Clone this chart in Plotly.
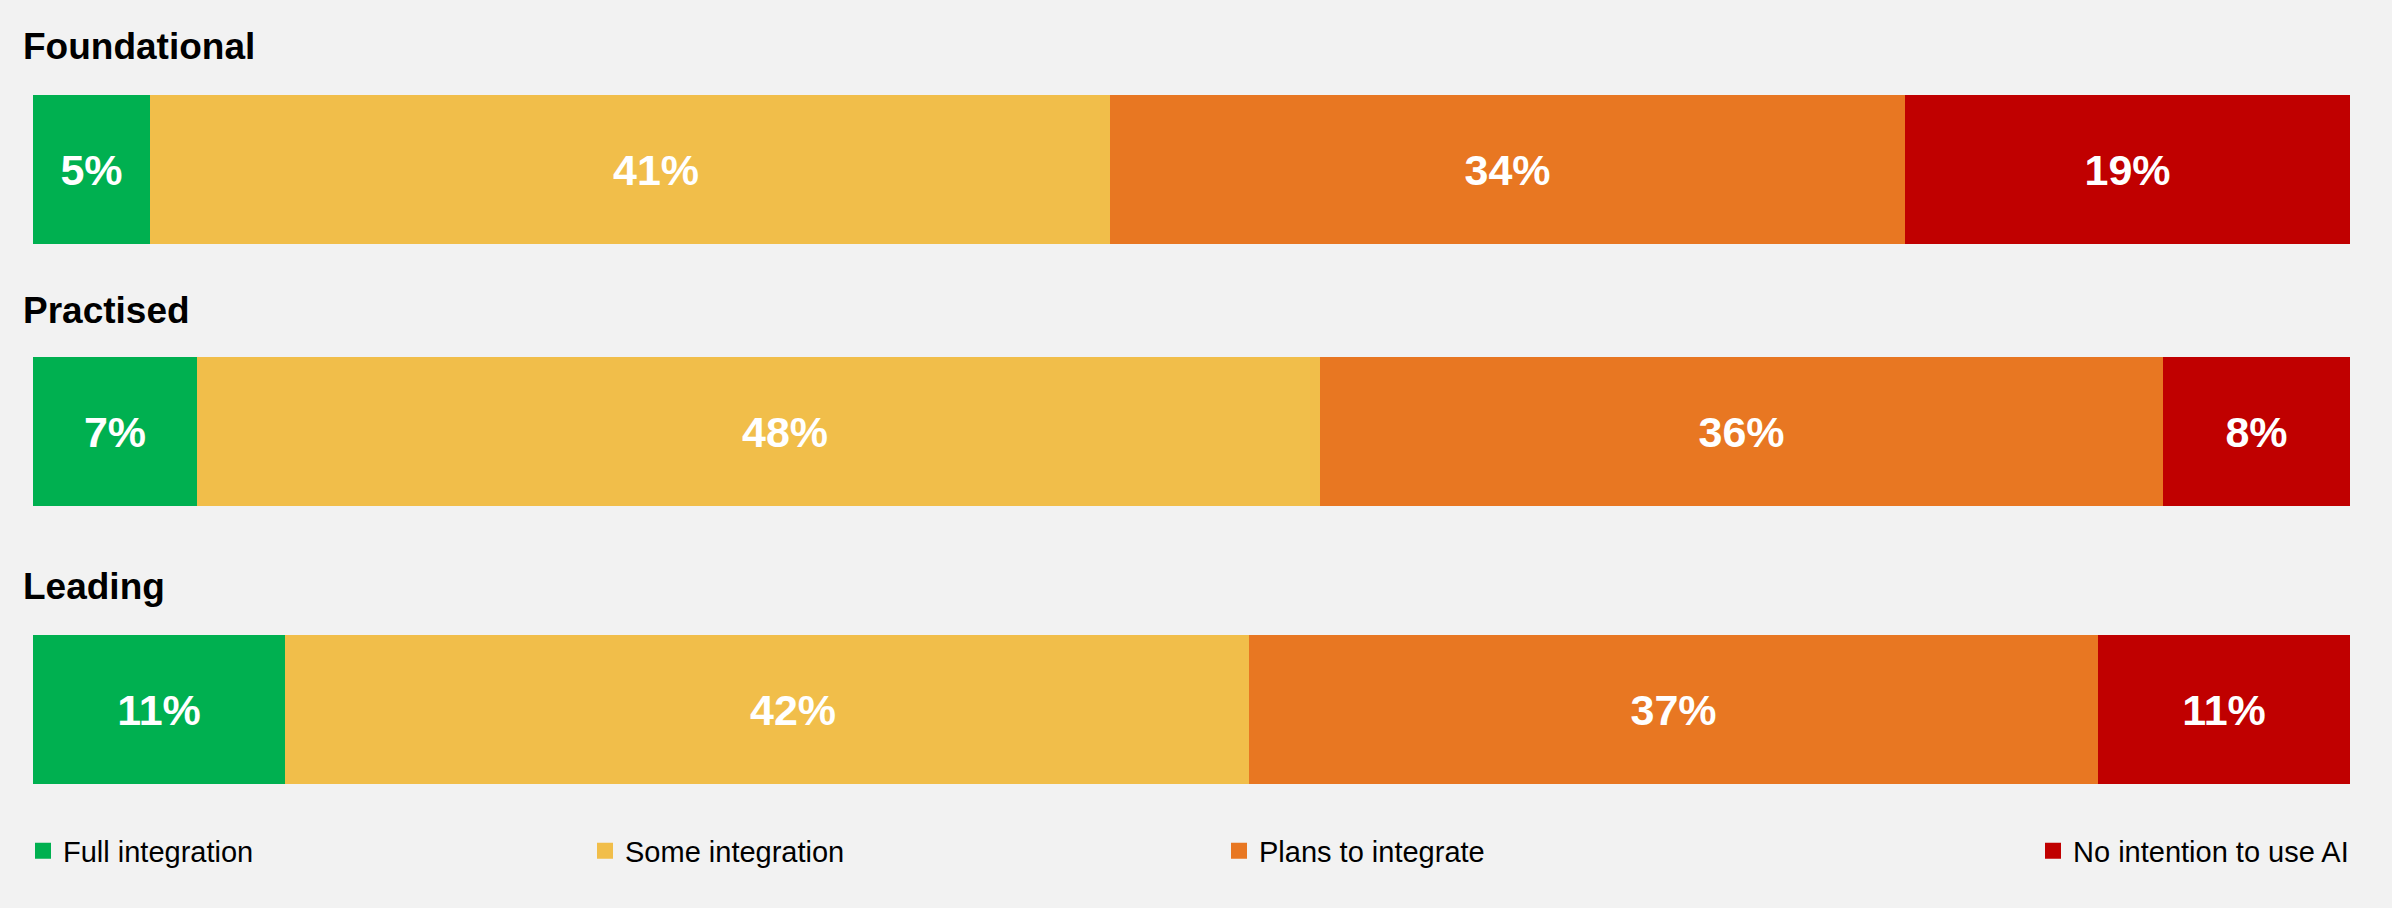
import plotly.graph_objects as go

# Survey data: share of respondents by AI-integration stage, per maturity group
groups = ["Foundational", "Practised", "Leading"]
stages = ["Full integration", "Some integration", "Plans to integrate", "No intention to use AI"]
full_integration = [5, 7, 11]
some_integration = [41, 48, 42]
plans_to_integrate = [34, 36, 37]
no_intention = [19, 8, 11]

stage_values = [full_integration, some_integration, plans_to_integrate, no_intention]
stage_colors = ["#00B050", "#F1BE4A", "#E87722", "#C00000"]

W, H = 2392, 908
BG = "#F2F2F2"
FONT = "Liberation Sans, Arial, sans-serif"
LABEL_FONT = dict(family=FONT, size=43, color="white", weight="bold")

# pixel rows (top, bottom) of each group's bar
bar_rows = [(95, 244), (357, 506), (635, 784)]
x_left, x_right = 33, 2350
title_centers = [46.5, 310, 586.5]

fig = go.Figure()
layout = {}
annotations = []

for gi, group in enumerate(groups):
    n = "" if gi == 0 else str(gi + 1)
    total = sum(v[gi] for v in stage_values)
    start = 0
    for si, stage in enumerate(stages):
        val = stage_values[si][gi]
        # the "Some integration" label sits a little right of the segment centre
        in_bar_text = si != 1
        fig.add_trace(go.Bar(
            x=[val], y=[group], orientation="h",
            xaxis="x" + n, yaxis="y" + n,
            marker=dict(color=stage_colors[si], line=dict(width=0)),
            width=1,
            text=[f"{val}%"] if in_bar_text else None,
            textposition="inside", insidetextanchor="middle",
            textfont=LABEL_FONT, constraintext="none",
            showlegend=False, hoverinfo="skip",
        ))
        if not in_bar_text:
            annotations.append(dict(
                text=f"{val}%", x=start + val / 2, y=group,
                xref="x" + n, yref="y" + n, xanchor="center", yanchor="middle",
                xshift=26, showarrow=False, font=LABEL_FONT,
            ))
        start += val
    top, bottom = bar_rows[gi]
    layout["xaxis" + n] = dict(domain=[x_left / W, x_right / W], range=[0, total],
                               visible=False, fixedrange=True, anchor="y" + n)
    layout["yaxis" + n] = dict(domain=[(H - bottom) / H, (H - top) / H], range=[-0.5, 0.5],
                               visible=False, fixedrange=True, anchor="x" + n)

# legend: one entry per stage, each in its own legend box spread along the bottom
legend_x = [23, 585, 1219, None]
legend_names = ["legend", "legend2", "legend3", "legend4"]
for si, stage in enumerate(stages):
    fig.add_trace(go.Scatter(
        x=[None], y=[None], mode="markers", name=stage,
        marker=dict(symbol="square", size=16, color=stage_colors[si]),
        legend=legend_names[si], showlegend=True,
    ))
    lx = legend_x[si]
    layout[legend_names[si]] = dict(
        x=(lx / W) if lx is not None else (x_right + 4) / W,
        xanchor="left" if lx is not None else "right",
        y=(H - 851) / H, yanchor="middle",
        orientation="h", bgcolor="rgba(0,0,0,0)", borderwidth=0,
        font=dict(family=FONT, size=29, color="#000000"),
    )

for gi, group in enumerate(groups):
    annotations.append(dict(
        text=group, x=21 / W, y=(H - title_centers[gi]) / H,
        xref="paper", yref="paper", xanchor="left", yanchor="middle",
        showarrow=False, font=dict(family=FONT, size=37, color="#000000", weight="bold"),
    ))

fig.update_layout(
    width=W, height=H,
    margin=dict(l=0, r=0, t=0, b=0),
    paper_bgcolor=BG, plot_bgcolor=BG,
    barmode="stack", bargap=0,
    annotations=annotations,
    **layout,
)

fig.write_html("out.html", config={"displayModeBar": False})
